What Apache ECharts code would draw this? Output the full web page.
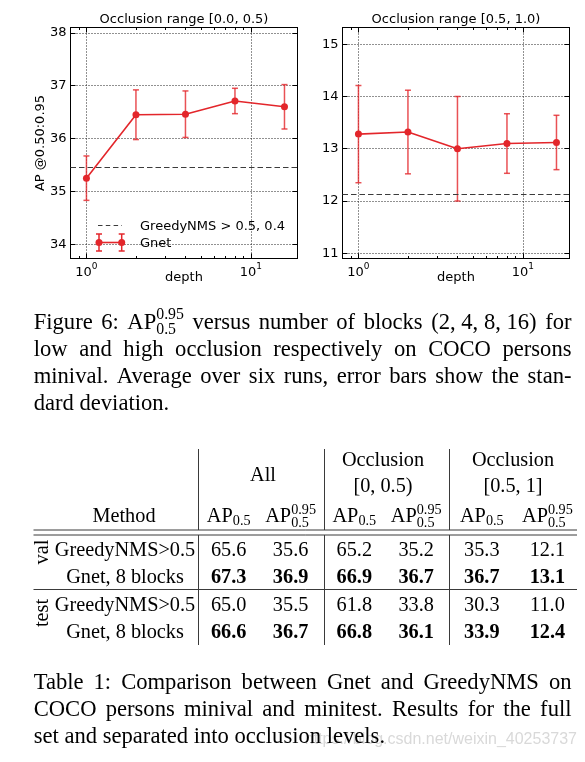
<!DOCTYPE html>
<html><head><meta charset="utf-8">
<script src="https://cdn.jsdelivr.net/npm/echarts@6/dist/echarts.min.js"></script>
<style>html,body{margin:0;padding:0;background:#fff;}#c{width:585px;height:762px;}</style>
</head><body><div id="c"></div>
<script>
// ---------------- data ----------------
const depth = [1, 2, 4, 8, 16];
const lowMean = [35.25, 36.45, 36.46, 36.71, 36.60];
const lowStd = [0.42, 0.47, 0.44, 0.24, 0.42];
const highMean = [13.28, 13.32, 13.00, 13.10, 13.12];
const highStd = [0.93, 0.80, 1.00, 0.57, 0.52];
const greedyLow = 35.45;
const greedyHigh = 12.13;
const panelTitles = ['Occlusion range [0.0, 0.5)', 'Occlusion range [0.5, 1.0)'];
const yAxisName = 'AP @0.50:0.95';
const xAxisName = 'depth';
const legendNames = ['GreedyNMS > 0.5, 0.4', 'Gnet'];
const minorTickValues = [0.9, 2, 3, 4, 5, 6, 7, 8, 9];
const xRange = [0.8, 19.2];
const lowYRange = [33.73, 38.1];
const highYRange = [10.9, 15.32];

const groupHeaders = ['All', 'Occlusion', 'Occlusion'];
const groupSubHeaders = ['', '[0, 0.5)', '[0.5, 1]'];
const methodHeader = 'Method';
const splitNames = ['val', 'test'];
const methodNames = ['GreedyNMS>0.5', 'Gnet, 8 blocks', 'GreedyNMS>0.5', 'Gnet, 8 blocks'];
const tableRows = [
  [65.6, 35.6, 65.2, 35.2, 35.3, 12.1],
  [67.3, 36.9, 66.9, 36.7, 36.7, 13.1],
  [65.0, 35.5, 61.8, 33.8, 30.3, 11.0],
  [66.6, 36.7, 66.8, 36.1, 33.9, 12.4]
];
const boldRows = [false, true, false, true];
const APS = '\u0001APS';
const figCaption = [
  ['Figure', '6:', APS, 'versus', 'number', 'of', 'blocks', '(2, 4, 8, 16)', 'for'],
  ['low', 'and', 'high', 'occlusion', 'respectively', 'on', 'COCO', 'persons'],
  ['minival.', 'Average', 'over', 'six', 'runs,', 'error', 'bars', 'show', 'the', 'stan-'],
  ['dard', 'deviation.']
];
const tabCaption = [
  ['Table', '1:', 'Comparison', 'between', 'Gnet', 'and', 'GreedyNMS', 'on'],
  ['COCO', 'persons', 'minival', 'and', 'minitest.', 'Results', 'for', 'the', 'full'],
  ['set', 'and', 'separated', 'into', 'occlusion', 'levels.']
];
const watermark = 'https://blog.csdn.net/weixin_40253737';

// ---------------- helpers ----------------
const RED = '#e3262b';
const AXF = 'DejaVu Sans';
const SERIF = '"Liberation Serif"';
const FS = 22.6;   // caption size
const TFS = 20.3;  // table size
const meas = document.createElement('canvas').getContext('2d');
function fontStr(size, weight, fam) { return (weight || 'normal') + ' ' + size + 'px ' + (fam || SERIF); }
function tw(str, size, weight, fam) { meas.font = fontStr(size, weight, fam); meas.textBaseline = 'alphabetic'; return meas.measureText(str).width; }
function midOff(size, weight, fam) {
  meas.font = fontStr(size, weight, fam); meas.textBaseline = 'middle';
  const d = meas.measureText('H').actualBoundingBoxDescent; meas.textBaseline = 'alphabetic'; return d;
}
function T(x, base, text, size, o) {
  o = o || {};
  const f = fontStr(size, o.weight, o.fam);
  const al = o.align || 'left';
  return { type: 'text', x: x, y: base - midOff(size, o.weight, o.fam), rotation: o.rotation || 0, z: o.z || 10,
    style: { text: text, font: f, fill: o.fill || '#000', align: al, verticalAlign: 'middle', textAlign: al, textVerticalAlign: 'middle' } };
}
function L(x1, y1, x2, y2, o) {
  o = o || {};
  return { type: 'line', z: 10, shape: { x1: x1, y1: y1, x2: x2, y2: y2 }, style: { stroke: o.stroke || '#3a3a3a', lineWidth: o.w || 1, lineDash: o.dash || null } };
}
const SC = 0.7;
function wordW(w, size, weight) {
  if (w === APS) return tw('AP', size, weight) + tw('0.95', size * SC, weight);
  return tw(w, size, weight);
}
function drawWord(els, w, x, base, size, weight) {
  if (w === APS) {
    const a = tw('AP', size, weight);
    els.push(T(x, base, 'AP', size, { weight }));
    els.push(T(x + a, base - 0.40 * size, '0.95', size * SC, { weight }));
    els.push(T(x + a, base + 0.25 * size, '0.5', size * SC, { weight }));
  } else els.push(T(x, base, w, size, { weight }));
}
function paragraph(els, lines, x0, x1, base0, lead, size) {
  lines.forEach((words, li) => {
    const base = base0 + li * lead;
    const ws = words.map(w => wordW(w, size));
    const tot = ws.reduce((a, b) => a + b, 0);
    const last = li === lines.length - 1;
    const gap = last ? tw(' ', size) : (x1 - x0 - tot) / (words.length - 1);
    let x = x0;
    words.forEach((w, i) => { drawWord(els, w, x, base, size); x += ws[i] + gap; });
  });
}
function apSub(els, cx, base, size) {
  const a = tw('AP', size), s = tw('0.5', size * SC);
  const x = cx - (a + s) / 2;
  els.push(T(x, base, 'AP', size));
  els.push(T(x + a, base + 0.15 * size, '0.5', size * SC));
}
function apSupSub(els, cx, base, size) {
  const wtot = wordW(APS, size);
  drawWord(els, APS, cx - wtot / 2, base, size);
}

// ---------------- chart axes ----------------
const gridLine = { color: '#222', width: 1, type: [1, 2] };
function xAxes(gi, title) {
  const common = { type: 'log', logBase: 10, gridIndex: gi, min: xRange[0], max: xRange[1],
    axisLine: { show: true, onZero: false, lineStyle: { color: '#000', width: 1 } },
    axisTick: { show: true, inside: true, length: 5, lineStyle: { color: '#000', width: 1 } },
    minorTick: { show: false }, splitLine: { show: false }, nameMoveOverlap: false };
  return [
    Object.assign({}, common, { position: 'bottom', name: xAxisName, nameLocation: 'middle', nameGap: 13,
      nameTextStyle: { fontFamily: AXF, fontSize: 13, color: '#000' },
      splitLine: { show: true, lineStyle: gridLine },
      axisLabel: { show: true, margin: 4,
        formatter: v => { const e = Math.log10(v); return Math.abs(e - Math.round(e)) < 1e-6 ? '{b|10}{s|' + Math.round(e) + '}' : ''; },
        rich: { b: { fontFamily: AXF, fontSize: 13, color: '#000', lineHeight: 17, verticalAlign: 'bottom' },
                s: { fontFamily: AXF, fontSize: 9, color: '#000', lineHeight: 17, verticalAlign: 'top' } } } }),
    Object.assign({}, common, { position: 'top', name: title, nameLocation: 'middle', nameGap: 1.5,
      nameTextStyle: { fontFamily: AXF, fontSize: 13, color: '#000' }, axisLabel: { show: false } })
  ];
}
function yAxes(gi, range, name) {
  const common = { type: 'value', gridIndex: gi, min: range[0], max: range[1], splitNumber: 5,
    axisLine: { show: true, onZero: false, lineStyle: { color: '#000', width: 1 } },
    axisTick: { show: true, inside: true, length: 5, lineStyle: { color: '#000', width: 1 } },
    splitLine: { show: false }, nameMoveOverlap: false };
  return [
    Object.assign({}, common, { position: 'left', name: name, nameLocation: 'middle', nameGap: 23,
      nameTextStyle: { fontFamily: AXF, fontSize: 13, color: '#000' },
      splitLine: { show: true, lineStyle: gridLine },
      axisLabel: { show: true, margin: 4, fontFamily: AXF, fontSize: 13, color: '#000',
        formatter: v => Math.abs(v - Math.round(v)) < 1e-6 ? String(Math.round(v)) : '' } }),
    Object.assign({}, common, { position: 'right', axisLabel: { show: false } })
  ];
}
function errRender(params, api) {
  const x = api.value(0);
  const lo = api.coord([x, api.value(1)]), hi = api.coord([x, api.value(2)]);
  const st = { stroke: RED, lineWidth: 1.5, opacity: 0.8 };
  return { type: 'group', children: [
    { type: 'line', shape: { x1: lo[0], y1: lo[1], x2: hi[0], y2: hi[1] }, style: st },
    { type: 'line', shape: { x1: lo[0] - 3, y1: lo[1], x2: lo[0] + 3, y2: lo[1] }, style: st },
    { type: 'line', shape: { x1: hi[0] - 3, y1: hi[1], x2: hi[0] + 3, y2: hi[1] }, style: st } ] };
}
function minorRender(params, api) {
  const cs = params.coordSys;
  const x = Math.round(api.coord([api.value(0), api.value(1)])[0]) + 0.5;
  const b = cs.y + cs.height;
  const st = { stroke: '#000', lineWidth: 1 };
  return { type: 'group', children: [
    { type: 'line', shape: { x1: x, y1: b, x2: x, y2: b - 2.5 }, style: st },
    { type: 'line', shape: { x1: x, y1: cs.y, x2: x, y2: cs.y + 2.5 }, style: st } ] };
}
function seriesFor(gi, mean, std, greedy) {
  const ax = 2 * gi;
  return [
    { type: 'custom', xAxisIndex: ax, yAxisIndex: ax, z: 3, silent: true,
      data: depth.map((d, i) => [d, mean[i] - std[i], mean[i] + std[i]]), encode: { x: 0, y: [1, 2] }, renderItem: errRender },
    { type: 'line', name: legendNames[1], xAxisIndex: ax, yAxisIndex: ax, z: 4,
      data: depth.map((d, i) => [d, mean[i]]), symbol: 'circle', symbolSize: 7,
      lineStyle: { color: RED, width: 1.6 }, itemStyle: { color: RED },
      markLine: { silent: true, symbol: ['none', 'none'], label: { show: false },
        lineStyle: { color: '#3c3c3c', width: 1.2, type: [5.5, 3] }, data: [{ yAxis: greedy }] } },
    { type: 'custom', xAxisIndex: ax, yAxisIndex: ax, z: 5, silent: true, clip: false,
      data: minorTickValues.map(v => [v, mean[0]]), renderItem: minorRender }
  ];
}

// ---------------- graphic (legend, captions, table) ----------------
const els = [];
// legend inside left panel
els.push(L(98, 225.5, 122, 225.5, { stroke: '#3c3c3c', w: 1.2, dash: [4.5, 3.3] }));
els.push(T(140, 230, legendNames[0], 13, { fam: AXF }));
els.push(L(99, 242.5, 121.7, 242.5, { stroke: RED, w: 1.6 }));
[99, 121.7].forEach(x => {
  els.push(L(x, 234, x, 251, { stroke: RED, w: 1.5 }));
  els.push(L(x - 3, 234, x + 3, 234, { stroke: RED, w: 1.5 }));
  els.push(L(x - 3, 251, x + 3, 251, { stroke: RED, w: 1.5 }));
  els.push({ type: 'circle', z: 11, shape: { cx: x, cy: 242.5, r: 3.5 }, style: { fill: RED } });
});
els.push(T(140, 247.3, legendNames[1], 13, { fam: AXF }));

// figure caption
paragraph(els, figCaption, 33.7, 571.5, 328.5, 27, FS);

// table
const colX = [228.7, 290.6, 354.3, 416.2, 481.8, 547.4];
const vX = [198.5, 324.5, 449.5];
const groupX = [263, 383, 513];
const rowBase = [556, 583.3, 610.8, 638.3];
const ruleY = [530, 535];
const midRule = 589.5;
const tTop = 449, tBot = 645;
vX.forEach(x => { els.push(L(x, tTop, x, ruleY[0])); els.push(L(x, ruleY[1], x, tBot)); });
els.push(L(33.5, ruleY[0], 577, ruleY[0]));
els.push(L(33.5, ruleY[1], 577, ruleY[1]));
els.push(L(33.5, midRule, 577, midRule));
els.push(T(groupX[0], 481, groupHeaders[0], TFS, { align: 'center' }));
for (let g = 1; g < 3; g++) {
  els.push(T(groupX[g], 465.5, groupHeaders[g], TFS, { align: 'center' }));
  els.push(T(groupX[g], 491.5, groupSubHeaders[g], TFS, { align: 'center' }));
}
els.push(T(124, 521.7, methodHeader, TFS, { align: 'center' }));
for (let g = 0; g < 3; g++) {
  apSub(els, colX[2 * g], 521.7, TFS);
  apSupSub(els, colX[2 * g + 1], 521.7, TFS);
}
methodNames.forEach((m, r) => els.push(T(125, rowBase[r], m, TFS, { align: 'center' })));
tableRows.forEach((row, r) => row.forEach((v, c) =>
  els.push(T(colX[c], rowBase[r], v.toFixed(1), TFS, { align: 'center', weight: boldRows[r] ? 'bold' : 'normal' }))));
const splitCy = [552, 613];
splitNames.forEach((s, i) => {
  const d = midOff(TFS);
  els.push({ type: 'text', x: 48.3 - d, y: splitCy[i], rotation: Math.PI / 2, z: 10,
    style: { text: s, font: fontStr(TFS), fill: '#000', align: 'center', verticalAlign: 'middle', textAlign: 'center', textVerticalAlign: 'middle' } });
});

// table caption
els.push(T(577, 744, watermark, 16, { fam: '"Liberation Sans"', align: 'right', fill: '#d9d9d9', z: 5 }));
paragraph(els, tabCaption, 33.7, 571.5, 689, 27, FS);

// ---------------- option ----------------
const option = {
  animation: false,
  backgroundColor: '#fff',
  grid: [
    { left: 70.5, top: 27.5, width: 227, height: 231 },
    { left: 342.5, top: 27.5, width: 227, height: 231 }
  ],
  xAxis: [].concat(xAxes(0, panelTitles[0]), xAxes(1, panelTitles[1])),
  yAxis: [].concat(yAxes(0, lowYRange, yAxisName), yAxes(1, highYRange, '')),
  series: [].concat(seriesFor(0, lowMean, lowStd, greedyLow), seriesFor(1, highMean, highStd, greedyHigh)),
  graphic: { elements: els }
};
const chart = echarts.init(document.getElementById('c'), null, { renderer: 'canvas', width: 585, height: 762 });
chart.setOption(option);
</script></body></html>
